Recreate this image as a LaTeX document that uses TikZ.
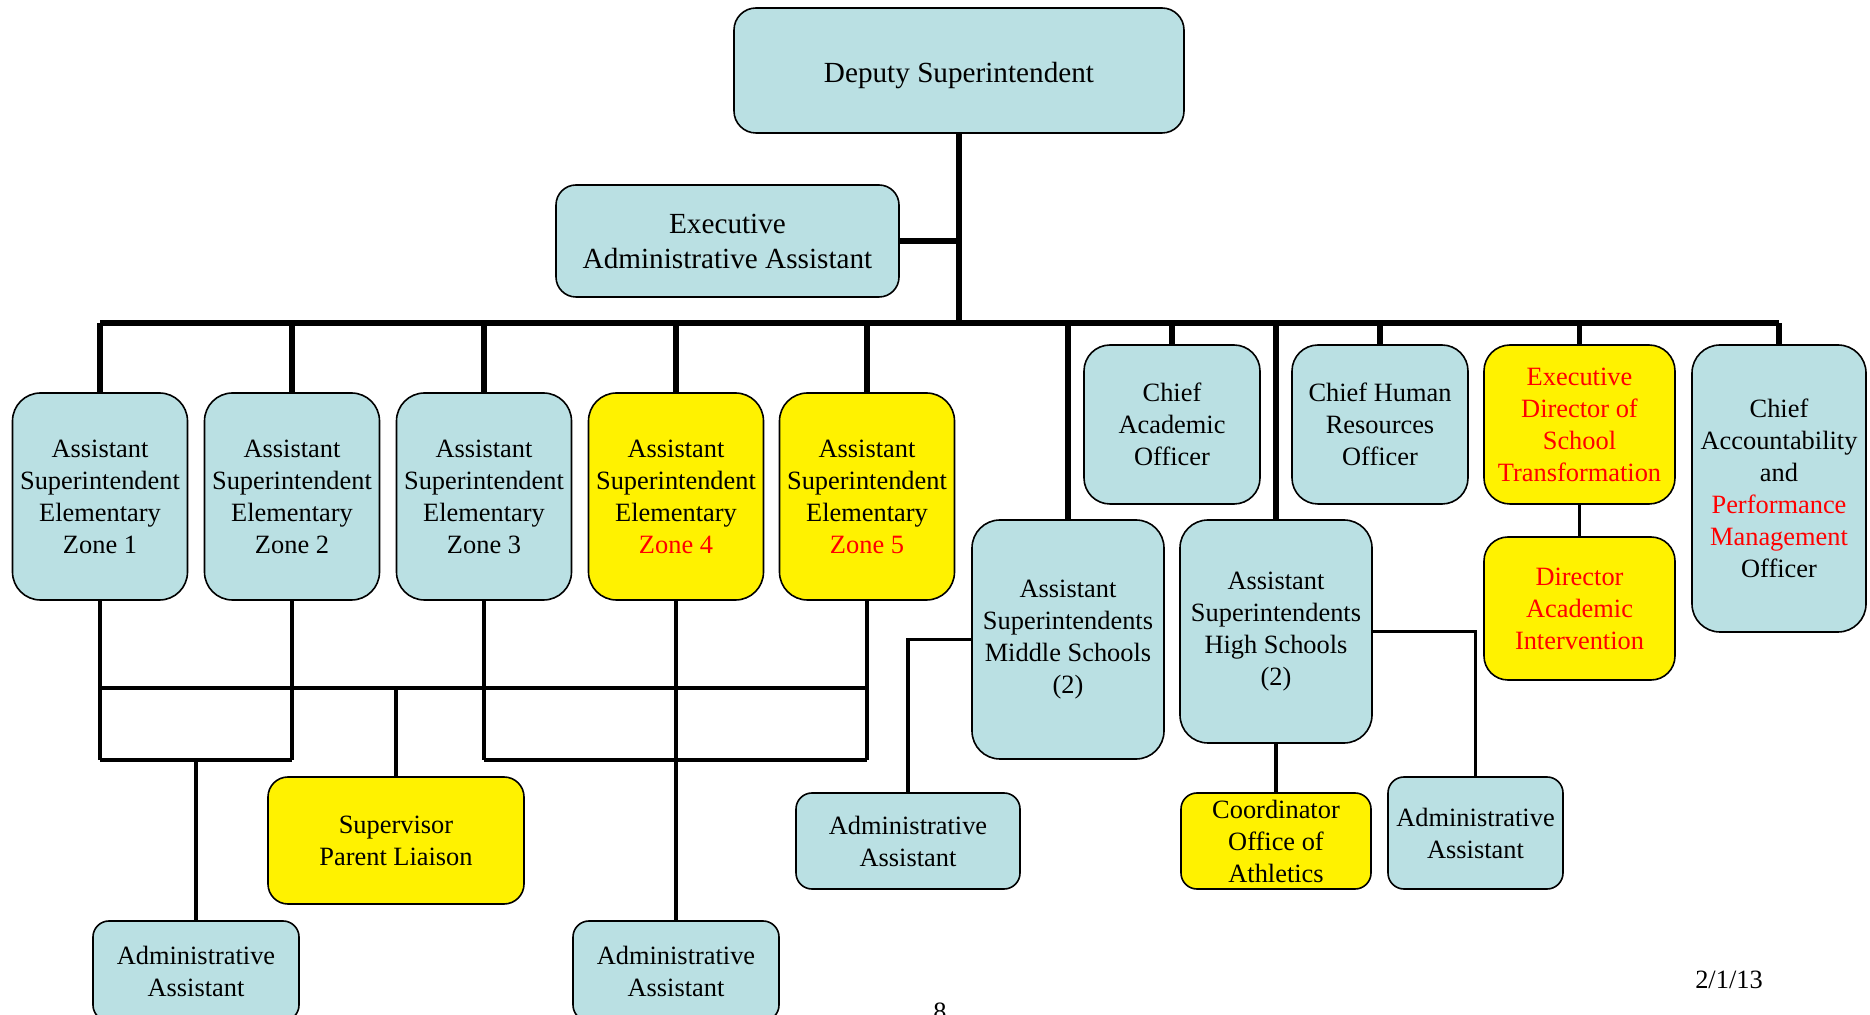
\documentclass[tikz,border=0pt]{standalone}
\usepackage{fontspec}
\setmainfont{Liberation Serif}
\usepackage{xcolor}
\usetikzlibrary{positioning, calc}
\definecolor{paleblue}{RGB}{186,224,227}
\definecolor{hired}{RGB}{255,0,0}
\newcommand{\redtxt}[1]{\textcolor{hired}{#1}}
\tikzset{
    post/.style = {draw=black, line width=0.8pt, fill=paleblue, align=center,
        inner sep=0pt, font=\fontsize{13.2}{16}\selectfont},
    post_hi/.style = {post, fill=yellow},
    post_big/.style = {post, font=\fontsize{14.6}{17.5}\selectfont},
    bus/.style = {line width=3.4pt},
    feed/.style = {line width=2.6pt},
    tie/.style = {line width=1.9pt},
}

\begin{document}
\begin{tikzpicture}[x=0.5pt, y=-0.5pt]
        \useasboundingbox (0,0) rectangle (1870,1015);
        \coordinate (bus) at (960,323);
        \coordinate (tie_up) at (0,688);
        \coordinate (tie_low) at (0,760);
        % top of the chart
        \node [post_big, minimum width=225pt, minimum height=62.5pt, rounded corners=11pt, text height=15pt, text depth=3pt] (deputy) at (959,70.5) {Deputy Superintendent};
        \node [post_big, minimum width=171.5pt, minimum height=56pt, rounded corners=10pt] (exec_aa) at (727.5,241) {Executive\\Administrative Assistant};
        % elementary zones
        \foreach \n/\x/\f/\z in {1/100/paleblue/Zone 1, 2/292/paleblue/Zone 2, 3/484/paleblue/Zone 3,
                4/676/yellow/{\redtxt{Zone 4}}, 5/867/yellow/{\redtxt{Zone 5}}}
            \node [post, fill=\f, minimum width=87.5pt, minimum height=103.5pt, rounded corners=14pt] (zone\n) at (\x,496.5) {Assistant\\Superintendent\\Elementary\\\z};
        % right hand side
        \node [post, minimum width=96pt, minimum height=119.5pt, rounded corners=14pt] (ms) at (1068,639.5) {Assistant\\Superintendents\\Middle Schools\\(2)};
        \node [post, minimum width=96pt, minimum height=111.5pt, rounded corners=14pt] (hs) at (1276,631.5) {Assistant\\Superintendents\\High Schools\\(2)};
        \node [post, minimum width=88pt, minimum height=79.5pt, rounded corners=13pt] (cao) at (1172,424.5) {Chief\\Academic\\Officer};
        \node [post, minimum width=88pt, minimum height=79.5pt, rounded corners=13pt] (chro) at (1380,424.5) {Chief Human\\Resources\\Officer};
        \node [post_hi, text=hired, minimum width=95.5pt, minimum height=79.5pt, rounded corners=13pt] (edst) at (1579.5,424.5) {Executive\\Director of\\School\\Transformation};
        \node [post_hi, text=hired, minimum width=95.5pt, minimum height=71.5pt, rounded corners=12pt] (dai) at (1579.5,608.5) {Director\\Academic\\Intervention};
        \node [post, minimum width=87pt, minimum height=143.5pt, rounded corners=14pt] (capmo) at (1779,488.5) {Chief\\Accountability\\and\\\redtxt{Performance}\\\redtxt{Management}\\Officer};
        % bottom row
        \node [post_hi, minimum width=128pt, minimum height=63.5pt, rounded corners=10pt] (spl) at (396,840.5) {Supervisor\\Parent Liaison};
        \node [post, minimum width=103pt, minimum height=50pt, rounded corners=8pt] (aa_a) at (196,971) {Administrative\\Assistant};
        \node [post, minimum width=103pt, minimum height=50pt, rounded corners=8pt] (aa_b) at (676,971) {Administrative\\Assistant};
        \node [post, minimum width=112pt, minimum height=48pt, rounded corners=8pt] (aa_ms) at (908,841) {Administrative\\Assistant};
        \node [post_hi, minimum width=95pt, minimum height=48pt, rounded corners=8pt] (coord) at (1276,841) {Coordinator\\Office of\\Athletics};
        \node [post, minimum width=87.5pt, minimum height=56pt, rounded corners=8pt] (aa_hs) at (1475.5,833) {Administrative\\Assistant};
        \node [font=\fontsize{13.2}{16}\selectfont] (date) at (1729,980) {2/1/13};
        \node [font=\fontsize{13.2}{16}\selectfont] (pageno) at (940,1012) {8};
        % connectors
        \draw [bus] (deputy.south) -- (deputy.south |- bus);
        \draw [bus, line cap=square] (zone1.north |- bus) -- (capmo.north |- bus);
        \draw [feed] (exec_aa.east) -- (exec_aa.east -| bus);
        \foreach \t in {zone1,zone2,zone3,zone4,zone5,ms,cao,hs,chro,edst,capmo}
            \draw [feed] (\t.north) -- (\t.north |- bus);
        \foreach \t in {zone1,zone2,zone3,zone5}
            \draw [tie] (\t.south) -- (\t.south |- tie_low);
        \draw [tie] (zone4.south) -- (aa_b.north);
        \draw [tie] (zone1.south |- tie_up) -- (zone5.south |- tie_up);
        \draw [tie] (zone1.south |- tie_low) -- (zone2.south |- tie_low);
        \draw [tie] (zone3.south |- tie_low) -- (zone5.south |- tie_low);
        \draw [tie] (aa_a.north) -- (aa_a.north |- tie_low);
        \draw [tie] (spl.north) -- (spl.north |- tie_up);
        \draw [tie] (ms.west) -| (aa_ms.north);
        \draw [tie] (hs.east) -| (aa_hs.north);
        \draw [tie] (hs.south) -- (coord.north);
        \draw [tie] (edst.south) -- (dai.north);
\end{tikzpicture}
\end{document}
